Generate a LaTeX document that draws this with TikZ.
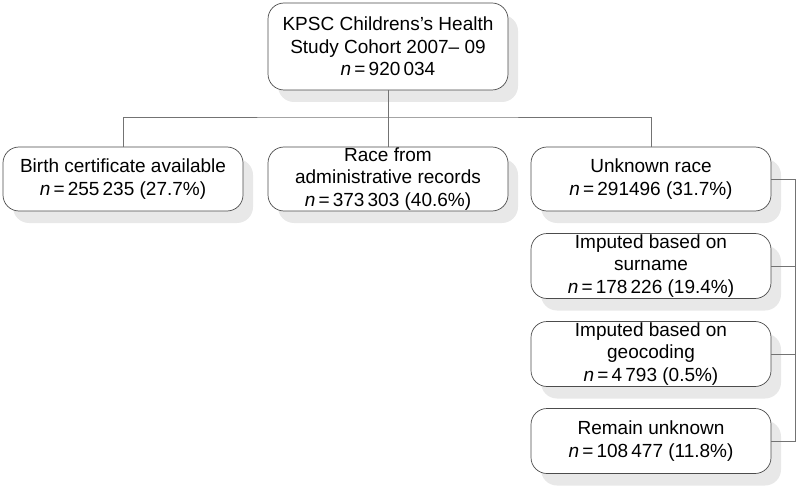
\documentclass[tikz,border=0pt]{standalone}
\usepackage{fontspec}
\setmainfont{Liberation Sans}
\usetikzlibrary{shadows}
\newcommand{\nn}{\textit{n}\,=\,}
\begin{document}
\begin{tikzpicture}[x=1pt,y=-1pt,
  box/.style={draw=black!70, line width=0.7pt, rounded corners=16pt, fill=white,
    minimum width=240pt, minimum height=64pt, align=center, inner sep=0pt,
    font=\fontsize{19}{22.5}\selectfont,
    drop shadow={shadow xshift=10pt, shadow yshift=-12pt, fill=black!9, opacity=1}},
  conn/.style={draw=black!55, line width=0.7pt}]
\useasboundingbox (0,0) rectangle (800,489);
\node[box, minimum height=87pt] (top) at (388,46.5) {KPSC Childrens's Health\\Study Cohort 2007– 09\\\nn920\,034};
\node[box] (birth) at (123,179) {Birth certificate available\\\nn255\,235 (27.7\%)};
\node[box] (admin) at (388,179) {Race from\\administrative records\\\nn373\,303 (40.6\%)};
\node[box] (unk) at (651,179) {Unknown race\\\nn291496 (31.7\%)};
\node[box, minimum height=65pt] (sur) at (651,266) {Imputed based on\\surname\\\nn178\,226 (19.4\%)};
\node[box, minimum height=65pt] (geo) at (651,354) {Imputed based on\\geocoding\\\nn4\,793 (0.5\%)};
\node[box, minimum height=65pt] (rem) at (651,441) {Remain unknown\\\nn108\,477 (11.8\%)};
\coordinate (hub) at (388,117);
\coordinate (rx) at (795,0);
\draw[conn] (top.south) -- (hub);
\draw[conn] (birth.north) |- (hub) -| (unk.north);
\draw[conn] (hub) -- (admin.north);
\draw[conn] (unk.east) -- (unk.east -| rx) -- (rem.east -| rx) -- (rem.east);
\draw[conn] (sur.east) -- (sur.east -| rx);
\draw[conn] (geo.east) -- (geo.east -| rx);
\end{tikzpicture}
\end{document}
